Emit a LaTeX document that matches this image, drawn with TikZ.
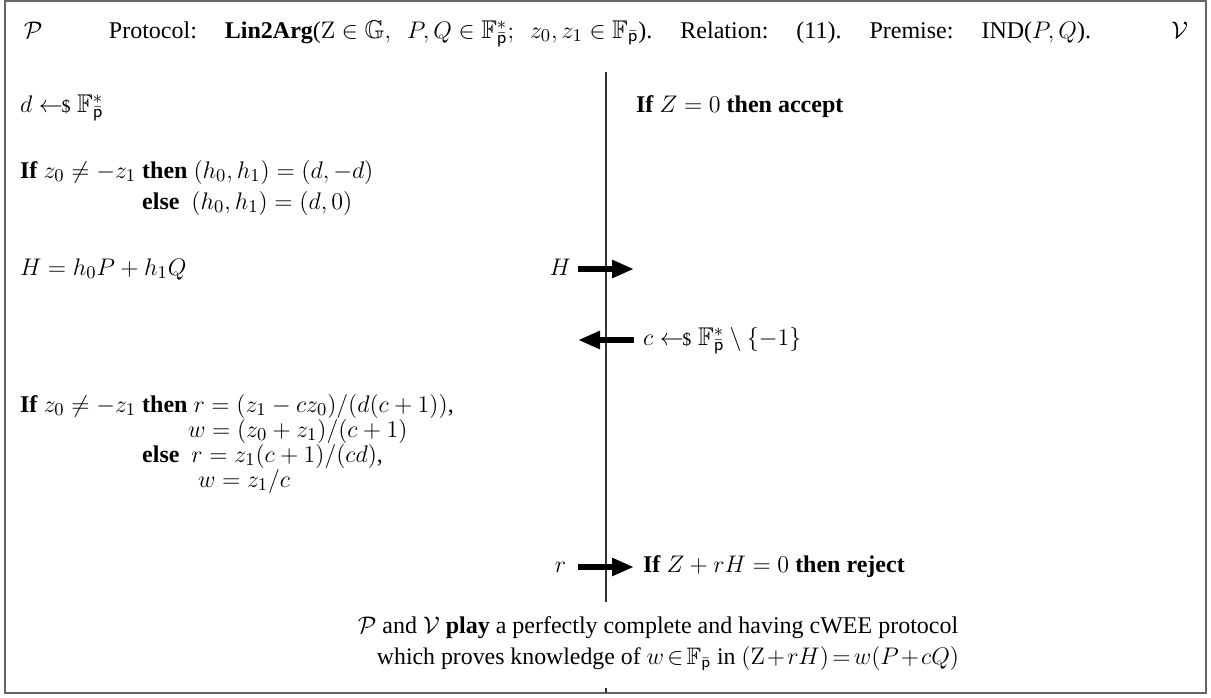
\documentclass[tikz,border=0pt]{standalone}
\usepackage{amssymb}
\usepackage[no-math]{fontspec}
\setmainfont{Liberation Serif}
\usetikzlibrary{arrows.meta}
% slightly larger formulas next to 12pt text
\DeclareMathSizes{12}{12.8}{9}{7}
% sampling arrow and the field symbols
\newcommand{\smpl}{\mathrel{\leftarrow\!\!\mbox{\small\$}}}
\newcommand{\Fp}{\mathbb{F}_{\bar{\mathsf{p}}}}
\newcommand{\Fps}{\mathbb{F}^*_{\bar{\mathsf{p}}}}
\newcommand{\gap}{\hspace{10pt} }
\begin{document}
\begin{tikzpicture}[x=0.5pt,y=-0.5pt,
  every node/.style={font=\fontsize{12}{14.4}\selectfont},
  txt/.style={anchor=base west, inner sep=0pt, outer sep=0pt},
  rtxt/.style={anchor=base east, inner sep=0pt, outer sep=0pt},
  ctxt/.style={anchor=base, inner sep=0pt, outer sep=0pt},
  frame/.style={draw=black!60, line width=0.75pt},
  divider/.style={draw=black!80, line width=0.7pt},
  msg/.style={line width=2.8pt, -{Triangle[length=11pt,width=8.5pt]}}]
\useasboundingbox (0,0) rectangle (1211,697);
\draw[frame] (5,0.75) rectangle (1206,693);

% header
\node[txt] (prv) at (24,38) {$\mathcal{P}$};
\node[rtxt] (vfr) at (1188,38) {$\mathcal{V}$};
\node[ctxt] (hdr) at (600,38) {Protocol:\gap\textbf{Lin2Arg}($\mathrm{Z}\in\mathbb{G},\hspace{6pt}P,Q\in\Fps;\hspace{6pt}z_0,z_1\in\Fp$).\gap Relation:\gap(11).\gap Premise:\gap IND($P,Q$).};

% dividing line between the parties
\coordinate (dtop) at (606,72);
\coordinate (dbot) at (606,602);
\coordinate (ttop) at (606,688);
\coordinate (tbot) at (606,693);
\draw[divider] (dtop) -- (dbot);
\draw[divider] (ttop) -- (tbot);

% prover side
\node[txt] (samd) at (20,112) {$d\smpl\Fps$};
\node[txt] (ifh) at (20,178) {\textbf{If} $z_0\neq -z_1$};
\node[txt] (thh) at ([xshift=3pt]ifh.base east) {\textbf{then} $(h_0,h_1)=(d,-d)$};
\coordinate (elhrow) at (0,209);
\node[txt] (elh) at (thh.base west |- elhrow) {\textbf{else}\ \ $(h_0,h_1)=(d,0)$};
\node[txt] (defH) at (20,275) {$H=h_0P+h_1Q$};
\node[txt] (ifr) at (20,412) {\textbf{If} $z_0\neq -z_1$};
\node[txt] (thr) at ([xshift=3pt]ifr.base east) {\textbf{then} $r=(z_1-cz_0)/(d(c+1))$,};
\node[txt] (w1) at (188,437) {$w=(z_0+z_1)/(c+1)$};
\coordinate (elrrow) at (0,462);
\node[txt] (elr) at (thr.base west |- elrrow) {\textbf{else}\ \ $r=z_1(c+1)/(cd)$,};
\node[txt] (w2) at (198,487) {$w=z_1/c$};

% verifier side
\node[txt] (acc) at (636,112) {\textbf{If} $Z=0$ \textbf{then accept}};
\node[txt] (samc) at (643,345) {$c\smpl\Fps\setminus\{-1\}$};
\node[txt] (rej) at (643,572) {\textbf{If} $Z+rH=0$ \textbf{then reject}};

% messages
\node[rtxt] (lH) at (571,275) {$H$};
\node[rtxt] (lr) at (566,572) {$r$};
\coordinate (hs) at (578,269);
\coordinate (he) at (634,269);
\coordinate (cs) at (634,340);
\coordinate (ce) at (578,340);
\coordinate (rs) at (578,567);
\coordinate (re) at (634,567);
\draw[msg] (hs) -- (he);
\draw[msg] (cs) -- (ce);
\draw[msg] (rs) -- (re);

% closing sub-protocol
\node[ctxt] (play1) at (658,633) {$\mathcal{P}$ and $\mathcal{V}$ \textbf{play} a perfectly complete and having cWEE protocol};
\node[ctxt, font=\fontsize{11.9}{14.4}\selectfont] (play2) at (668,664)
  {\medmuskip=1.5mu\thickmuskip=2.5mu which proves knowledge of $w\in\Fp$ in $(\mathrm{Z}+rH)=w(P+cQ)$};
\end{tikzpicture}
\end{document}
